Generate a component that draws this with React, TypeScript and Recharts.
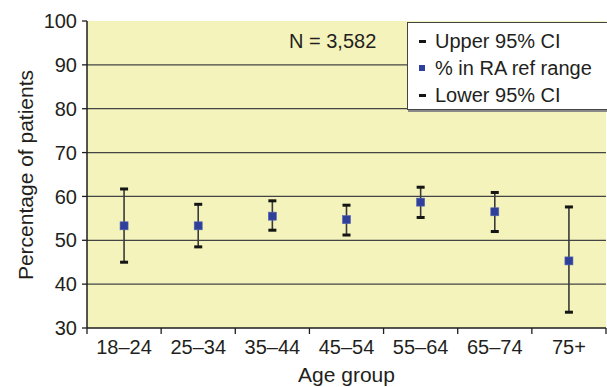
import React from 'react';
import { ScatterChart, Scatter, XAxis, YAxis, CartesianGrid, ErrorBar, Label } from 'recharts';

const ageGroups = ['18–24', '25–34', '35–44', '45–54', '55–64', '65–74', '75+'];
const pctInRange = [53.3, 53.3, 55.5, 54.7, 58.7, 56.5, 45.3];
const upper95 = [61.7, 58.2, 59.0, 58.0, 62.1, 60.9, 57.6];
const lower95 = [45.0, 48.5, 52.3, 51.2, 55.2, 52.0, 33.6];
const yTicks = [30, 40, 50, 60, 70, 80, 90, 100];
const gridValues = [40, 50, 60, 70, 80, 90];
const sampleSizeText = 'N = 3,582';
const legendItems = ['Upper 95% CI', '% in RA ref range', 'Lower 95% CI'];

const meanPts = ageGroups.map((age, i) => ({
  age,
  x: i + 0.5,
  y: pctInRange[i],
  err: [pctInRange[i] - lower95[i], upper95[i] - pctInRange[i]],
}));
const upperPts = ageGroups.map((age, i) => ({ age, x: i + 0.5, y: upper95[i] }));
const lowerPts = ageGroups.map((age, i) => ({ age, x: i + 0.5, y: lower95[i] }));
const boundaryTicks = ageGroups.map((_, i) => i).concat([ageGroups.length]);
const labelTicks = meanPts.map((d) => d.x);

const FONT = '"Liberation Sans", Arial, Helvetica, sans-serif';
const TEXT = '#231f20';
const AXIS = '#1e1e1e';
const BLUE = '#2f3f9c';

const capShape = (p: any) => (
  <rect x={p.cx - 4} y={p.cy - 1.5} width={8} height={3} fill="#151515" />
);
const squareShape = (p: any) => (
  <rect x={p.cx - 4} y={p.cy - 4} width={8} height={8} fill={BLUE} stroke="#5563b0" strokeWidth={0.6} />
);

export default function App() {
  return (
    <div style={{ position: 'absolute', left: 0, top: 0, width: 607, height: 387, background: '#fff', fontFamily: FONT }}>
      <ScatterChart width={607} height={387} margin={{ top: 21, right: 1, bottom: 0, left: 0 }}>
        <CartesianGrid
          fill="#f3f3bb"
          vertical={false}
          horizontalValues={gridValues}
          stroke="#444"
          strokeWidth={1.3}
        />
        <XAxis
          xAxisId="b"
          type="number"
          dataKey="x"
          domain={[0, ageGroups.length]}
          ticks={boundaryTicks}
          tickFormatter={() => ''}
          height={6}
          tickSize={6}
          tickMargin={0}
          axisLine={{ stroke: AXIS, strokeWidth: 1.5 }}
          tickLine={{ stroke: AXIS, strokeWidth: 1.3 }}
          interval={0}
          allowDataOverflow
        />
        <XAxis
          xAxisId="l"
          type="number"
          dataKey="x"
          domain={[0, ageGroups.length]}
          ticks={labelTicks}
          tickFormatter={(v: number) => ageGroups[Math.round(v - 0.5)]}
          height={53}
          tickSize={0}
          tickMargin={6}
          axisLine={false}
          tickLine={false}
          tick={{ fill: TEXT, fontSize: 20, fontFamily: FONT }}
          interval={0}
          allowDataOverflow
        >
          <Label value="Age group" position="insideBottom" offset={5} fill={TEXT} fontSize={21} fontFamily={FONT} />
        </XAxis>
        <YAxis
          type="number"
          dataKey="y"
          domain={[30, 100]}
          ticks={yTicks}
          width={87}
          tickSize={5}
          tickMargin={5}
          axisLine={{ stroke: AXIS, strokeWidth: 1.5 }}
          tickLine={{ stroke: AXIS, strokeWidth: 1.3 }}
          tick={{ fill: TEXT, fontSize: 20, fontFamily: FONT }}
          interval={0}
          allowDataOverflow
        >
          <Label
            content={() => (
              <text
                x={32.5}
                y={175}
                transform="rotate(-90 32.5 175)"
                textAnchor="middle"
                fill={TEXT}
                fontSize={21}
                fontFamily={FONT}
              >
                Percentage of patients
              </text>
            )}
          />
        </YAxis>
        <Scatter name="% in RA ref range" data={meanPts} xAxisId="b" shape={squareShape} isAnimationActive={false}>
          <ErrorBar dataKey="err" direction="y" width={0} stroke="#3a3a3a" strokeWidth={1.6} />
        </Scatter>
        <Scatter name="Upper 95% CI" data={upperPts} xAxisId="b" shape={capShape} isAnimationActive={false} />
        <Scatter name="Lower 95% CI" data={lowerPts} xAxisId="b" shape={capShape} isAnimationActive={false} />
      </ScatterChart>

      <div
        style={{
          position: 'absolute',
          left: 289,
          top: 31,
          fontSize: 20,
          lineHeight: '20px',
          color: TEXT,
          fontFamily: FONT,
          whiteSpace: 'nowrap',
        }}
      >
        {sampleSizeText}
      </div>

      <div
        style={{
          position: 'absolute',
          left: 407,
          top: 22,
          width: 205,
          height: 88,
          background: '#fff',
          border: '1px solid #444',
          boxShadow: '1px 2px 0 #8a8a8a',
          boxSizing: 'border-box',
          paddingTop: 5,
          fontFamily: FONT,
          fontSize: 20,
          color: TEXT,
        }}
      >
        {legendItems.map((item, i) => (
          <div key={item} style={{ position: 'relative', height: 27, lineHeight: '27px', paddingLeft: 27, whiteSpace: 'nowrap' }}>
            <span
              style={{
                position: 'absolute',
                left: 11,
                top: i === 1 ? 10 : 12,
                width: i === 1 ? 6 : 7,
                height: i === 1 ? 6 : 3,
                background: i === 1 ? BLUE : '#151515',
              }}
            />
            {item}
          </div>
        ))}
      </div>
    </div>
  );
}
